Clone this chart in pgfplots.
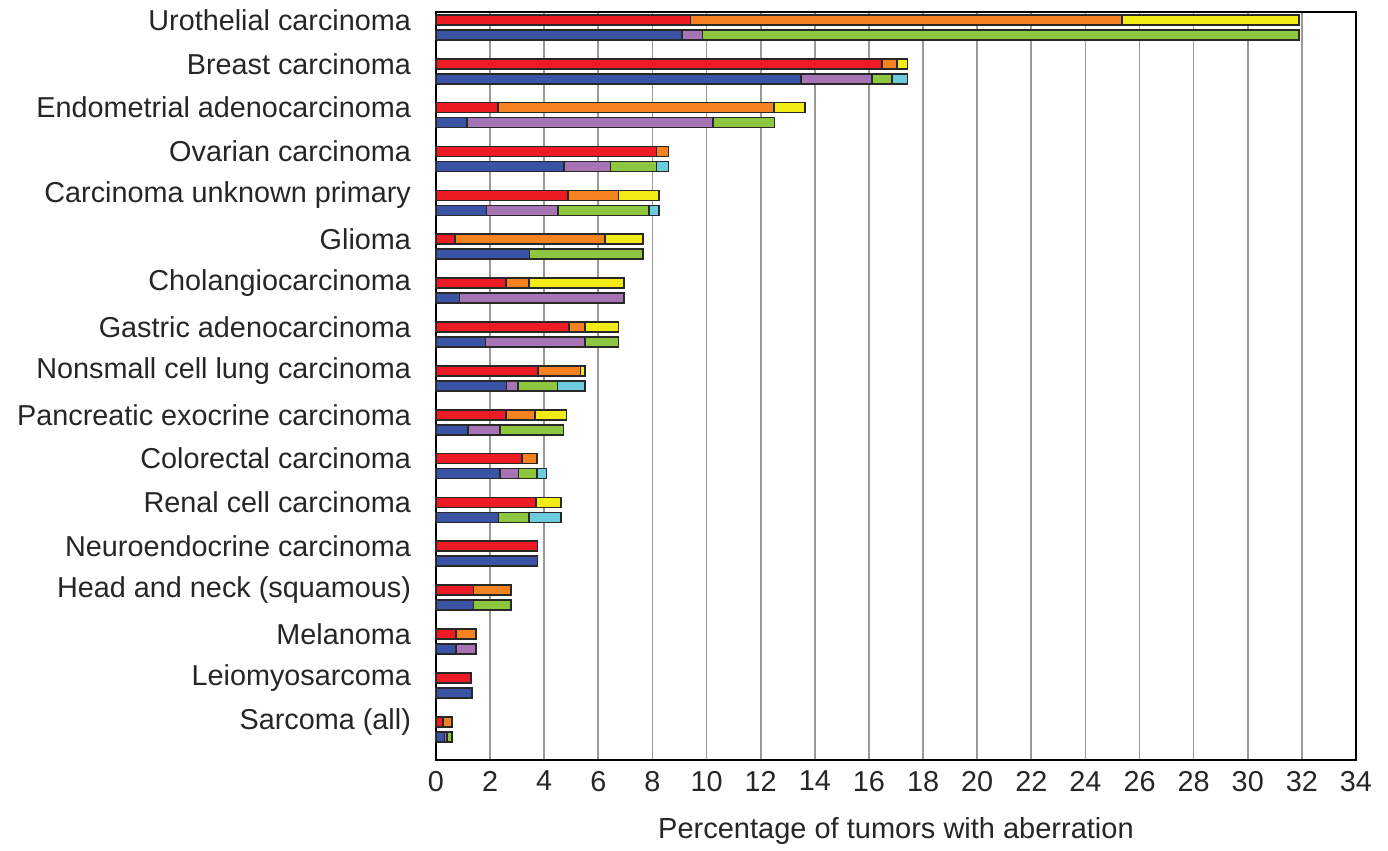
\documentclass[border=0pt]{standalone}
\usepackage{fontspec}
\setmainfont{Liberation Sans}
\usepackage{pgfplots}
\usepackage{pgfplotstable}
\pgfplotsset{compat=1.18}
\definecolor{cRed}{RGB}{237,28,36}
\definecolor{cOrange}{RGB}{245,130,32}
\definecolor{cYellow}{RGB}{242,235,22}
\definecolor{cBlue}{RGB}{58,83,164}
\definecolor{cPurple}{RGB}{166,115,180}
\definecolor{cGreen}{RGB}{141,198,63}
\definecolor{cCyan}{RGB}{108,204,222}
\definecolor{cEdge}{RGB}{40,40,40}
% cumulative right ends of the segments of each bar
\pgfplotstableread{
idx R     O     Y     B     P     G     C
16  9.41  25.36 31.90 9.08  9.85  31.90 31.90
15  16.48 17.04 17.42 13.48 16.11 16.86 17.42
14  2.29  12.50 13.65 1.14  10.23 12.51 12.51
13  8.15  8.59  8.59  4.74  6.45  8.15  8.59
12  4.87  6.75  8.25  1.87  4.50  7.87  8.25
11  0.69  6.25  7.64  3.46  3.46  7.64  7.64
10  2.60  3.44  6.95  0.87  6.96  6.96  6.96
9   4.91  5.51  6.75  1.83  5.51  6.75  6.75
8   3.76  5.34  5.50  2.61  3.03  4.49  5.50
7   2.60  3.65  4.82  1.18  2.36  4.71  4.71
6   3.17  3.74  3.74  2.37  3.05  3.74  4.08
5   3.70  3.70  4.61  2.31  2.31  3.44  4.61
4   3.75  3.75  3.75  3.75  3.75  3.75  3.75
3   1.39  2.76  2.76  1.39  1.39  2.76  2.76
2   0.74  1.49  1.49  0.74  1.49  1.49  1.49
1   1.30  1.30  1.30  1.32  1.32  1.32  1.32
0   0.25  0.60  0.60  0.31  0.41  0.60  0.60
}\data
\begin{document}
\begin{tikzpicture}
\begin{axis}[name=ax,
  width=460pt, height=374pt, scale only axis,
  xmin=0, xmax=34, xtick={0,2,...,34},
  ymin=-0.87, ymax=16.18, ytick={0,...,16},
  yticklabels={Sarcoma (all), Leiomyosarcoma, Melanoma, Head and neck (squamous), Neuroendocrine carcinoma, Renal cell carcinoma, Colorectal carcinoma, Pancreatic exocrine carcinoma, Nonsmall cell lung carcinoma, Gastric adenocarcinoma, Cholangiocarcinoma, Glioma, Carcinoma unknown primary, Ovarian carcinoma, Endometrial adenocarcinoma, Breast carcinoma, Urothelial carcinoma},
  major tick length=0pt,
  xmajorgrids, major grid style={draw=black!40, line width=0.85pt},
  axis line style={draw=black, line width=0.8pt},
  /pgf/number format/assume math mode=true,
  ticklabel style={font=\fontsize{14.4}{16}\selectfont, text=black!85},
  yticklabel style={xshift=-9pt},
  xticklabel style={yshift=-2pt},
  xlabel={Percentage of tumors with aberration},
  xlabel style={font=\fontsize{14.5}{16}\selectfont, text=black!85, yshift=-6pt},
  every axis plot/.append style={xbar, bar width=5pt, draw=cEdge, line width=0.85pt},
]
% top bars (drawn longest first so the shorter ones lie on top)
\addplot[fill=cYellow, bar shift=0pt] table[x=Y,y=idx]{\data};
\addplot[fill=cOrange, bar shift=0pt] table[x=O,y=idx]{\data};
\addplot[fill=cRed,    bar shift=0pt] table[x=R,y=idx]{\data};
% bottom bars
\addplot[fill=cCyan,   bar shift=-7.5pt] table[x=C,y=idx]{\data};
\addplot[fill=cGreen,  bar shift=-7.5pt] table[x=G,y=idx]{\data};
\addplot[fill=cPurple, bar shift=-7.5pt] table[x=P,y=idx]{\data};
\addplot[fill=cBlue,   bar shift=-7.5pt] table[x=B,y=idx]{\data};
\end{axis}
\path ([xshift=-218pt,yshift=-41.5pt]ax.south west) rectangle ([xshift=16pt,yshift=6pt]ax.north east);
\end{tikzpicture}
\end{document}
